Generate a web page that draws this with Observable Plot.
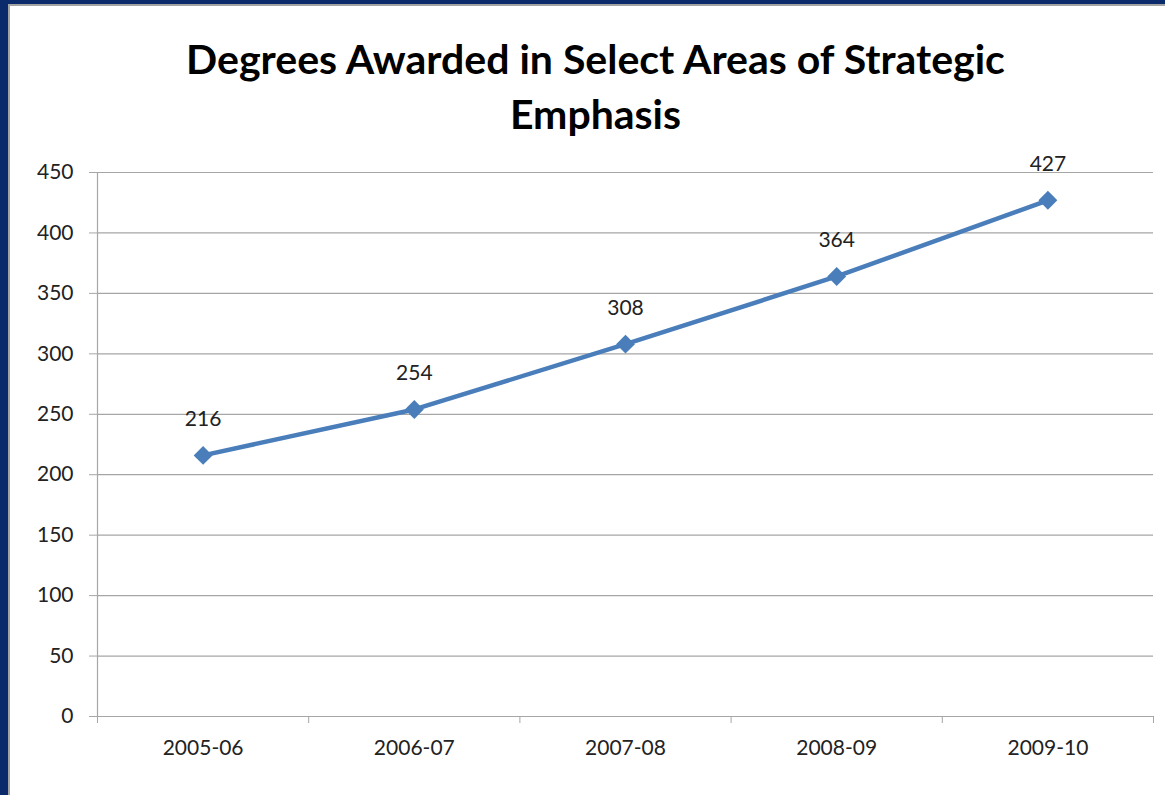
<!DOCTYPE html>
<html>
<head>
<meta charset="utf-8">
<script src="https://cdn.jsdelivr.net/npm/d3@7"></script>
<script src="https://cdn.jsdelivr.net/npm/@observablehq/plot@0.6"></script>
<style>
  html, body { margin: 0; padding: 0; background: #fff; width: 1165px; height: 795px; overflow: hidden; }
  #frame { position: fixed; left: 0; top: 0; width: 1165px; height: 795px; box-sizing: border-box;
           border-left: 8px solid #0b2a6c; border-top: 4px solid #0b2a6c; pointer-events: none; }
  #frame-inner { position: absolute; left: 0; top: 0; right: 0; bottom: 0;
                 border-left: 2px solid #a3a3a3; border-top: 2px solid #a3a3a3; }
  #title { box-sizing: border-box; width: 1165px; height: 150px; padding-top: 31px; padding-left: 26px;
           text-align: center; font-family: Lato, "Open Sans", sans-serif; font-weight: 700;
           font-size: 41px; line-height: 55px; color: #000; }
</style>
</head>
<body>
<div id="title">Degrees Awarded in Select Areas of Strategic<br>Emphasis</div>
<div id="chart"></div>
<div id="frame"><div id="frame-inner"></div></div>
<script>
const categories = ["2005-06", "2006-07", "2007-08", "2008-09", "2009-10"];
const values = [216, 254, 308, 364, 427];
const yTicks = [0, 50, 100, 150, 200, 250, 300, 350, 400, 450];

const data = categories.map((c, i) => ({category: c, pos: i + 0.5, value: values[i]}));
const boundaries = d3.range(0, categories.length + 1);
const gray = "#a6a6a6";
const blue = "#4a7ebb";

const chart = Plot.plot({
  width: 1165,
  height: 645,
  marginLeft: 97,
  marginRight: 12,
  marginTop: 22,
  marginBottom: 79,
  x: {domain: [0, categories.length], axis: null},
  y: {domain: [0, 450], axis: null},
  style: {fontFamily: "Lato, 'Open Sans', sans-serif", fontSize: "21px", color: "#222", background: "transparent"},
  marks: [
    Plot.gridY(yTicks, {stroke: gray, strokeOpacity: 1, strokeWidth: 1.2}),
    Plot.axisY({ticks: yTicks, tickSize: 8, tickPadding: 16, stroke: gray, strokeOpacity: 1, fill: "#222", label: null, fontSize: 21}),
    Plot.ruleX([0], {stroke: gray, strokeWidth: 1.2}),
    Plot.axisX({ticks: boundaries, tickSize: 7, tickFormat: () => "", stroke: gray, strokeOpacity: 1, label: null}),
    Plot.axisX({ticks: data.map(d => d.pos), tickSize: 0, tickPadding: 24, tickFormat: p => categories[Math.floor(p)], fill: "#222", label: null, fontSize: 21}),
    Plot.line(data, {x: "pos", y: "value", stroke: blue, strokeWidth: 4.5}),
    Plot.dot(data, {x: "pos", y: "value", symbol: "diamond2", r: 8.5, fill: blue, stroke: "none"}),
    Plot.text(data, {x: "pos", y: "value", text: d => String(d.value), dy: -36, fill: "#222", fontSize: 21})
  ]
});
document.getElementById("chart").appendChild(chart);
</script>
</body>
</html>
